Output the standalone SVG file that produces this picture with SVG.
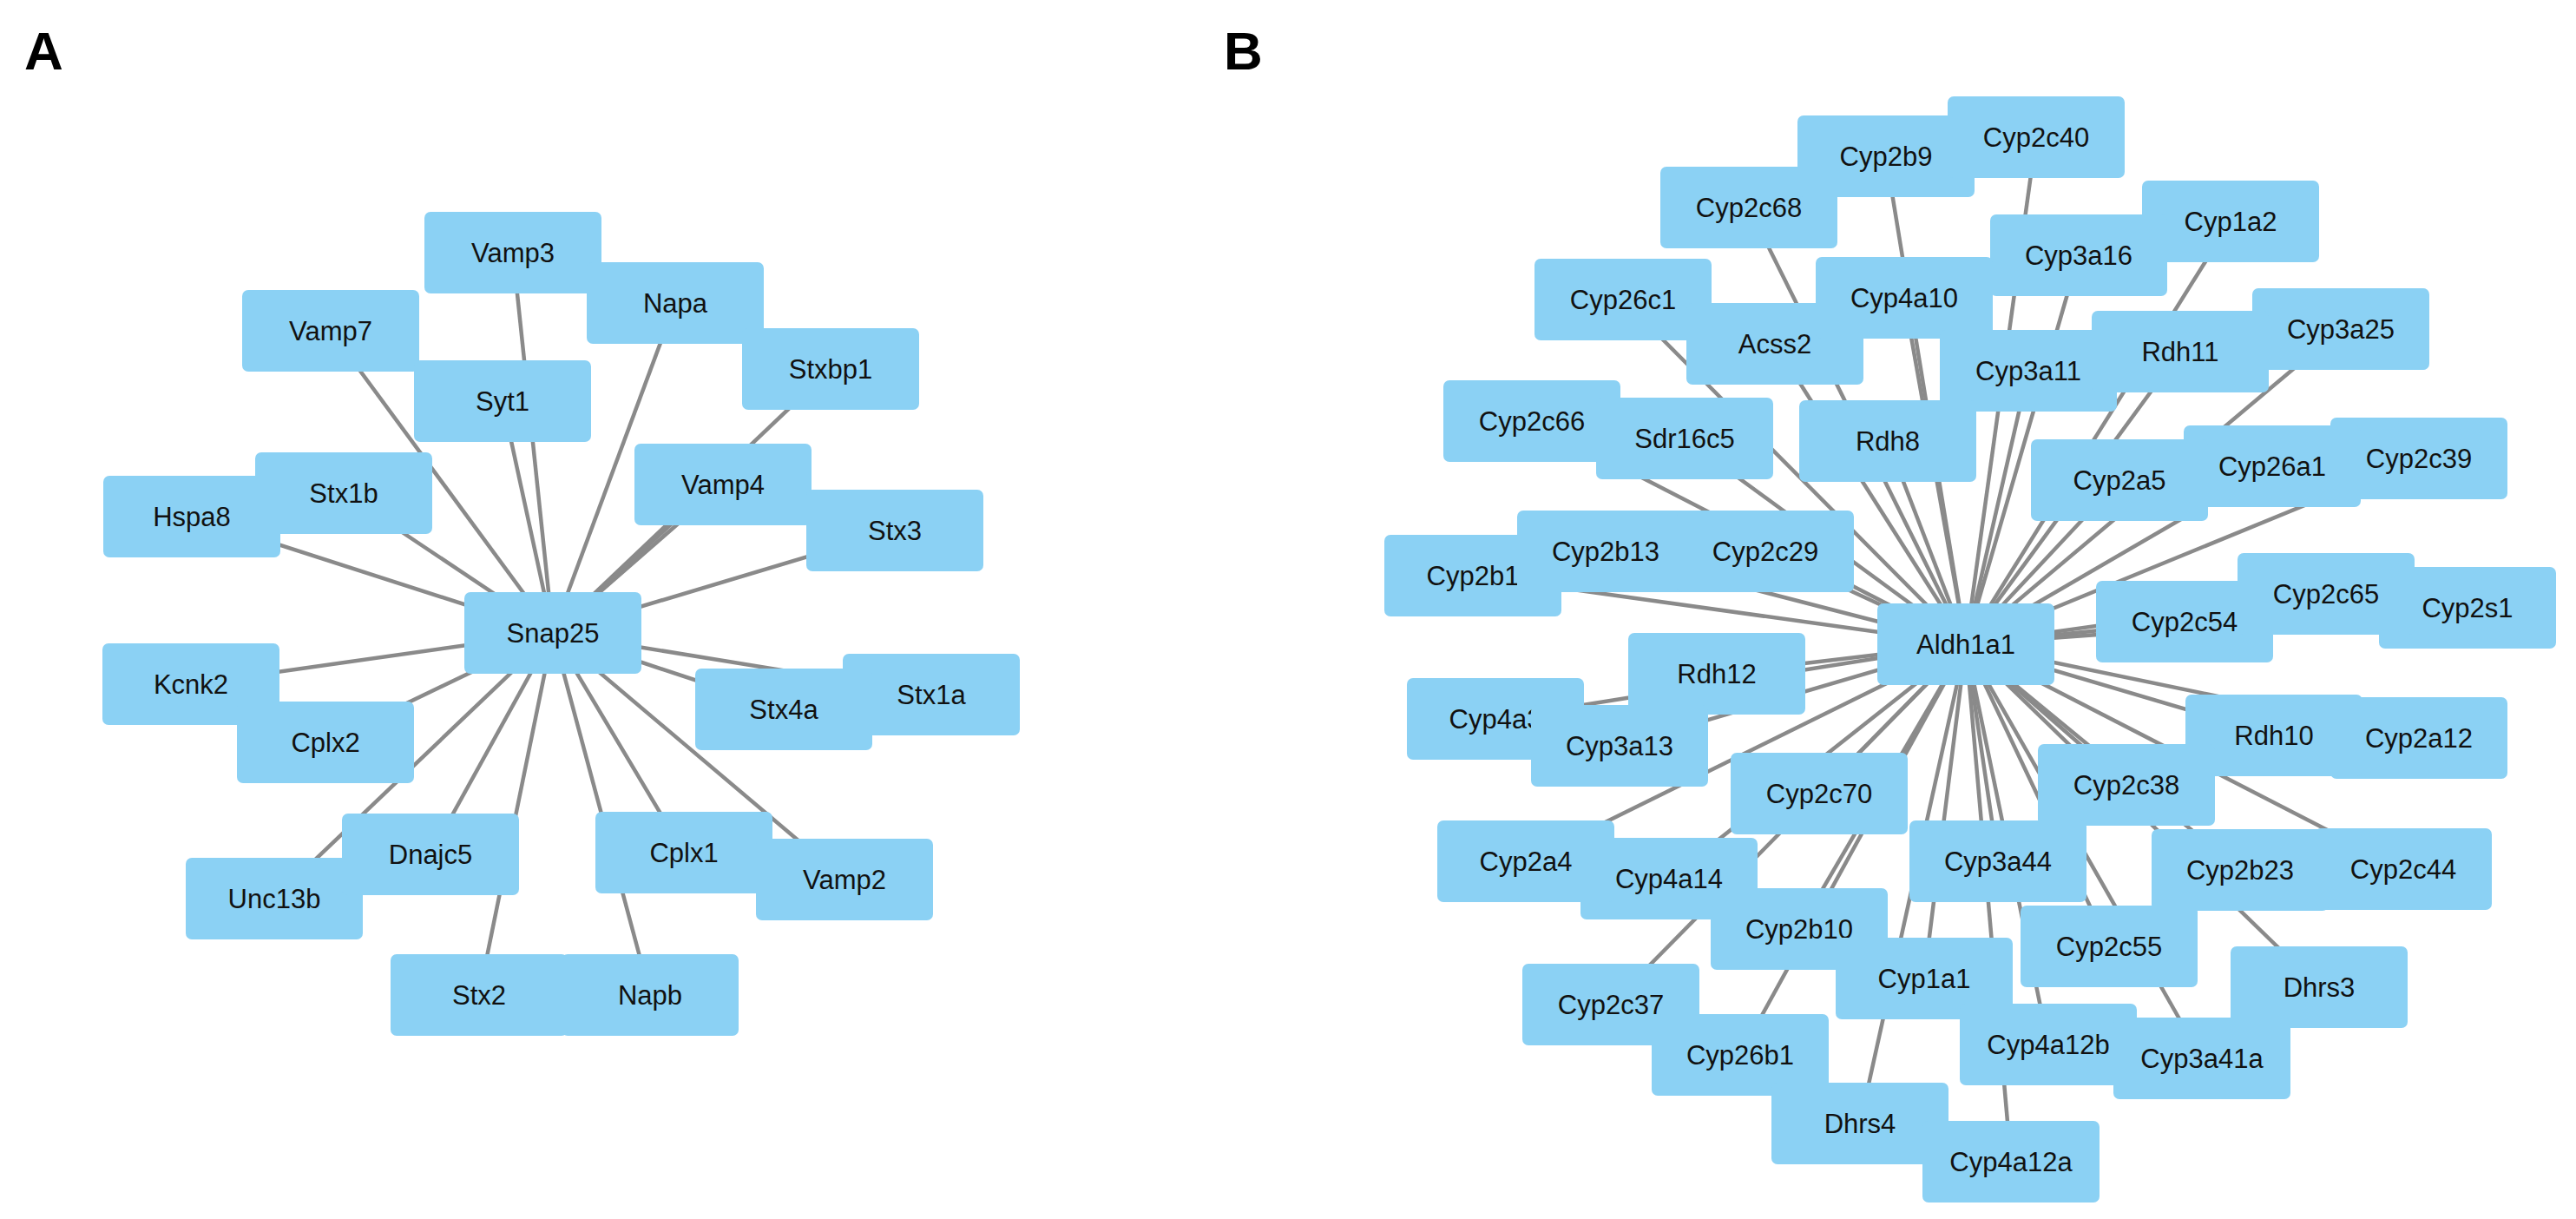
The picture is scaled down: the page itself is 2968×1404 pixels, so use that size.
<svg xmlns="http://www.w3.org/2000/svg" width="2968" height="1404" viewBox="0 0 2968 1404">
<style>
.n text{font-family:"Liberation Sans",Arial,sans-serif;font-size:31px;fill:#111;text-anchor:middle;dominant-baseline:central;}
.e line{stroke:#8a8a8a;stroke-width:4.5;}
.lbl{font-family:"Liberation Sans",Arial,sans-serif;font-size:62px;font-weight:bold;fill:#000;}
</style>
<defs><rect id="b" x="-102" y="-47" width="204" height="94" rx="7" fill="#8bd1f4"/></defs>
<rect width="2968" height="1404" fill="#fff"/>
<text class="lbl" x="28" y="80">A</text>
<text class="lbl" x="1410" y="80">B</text>
<g id="connectors" class="e">
<line x1="637" y1="729" x2="591" y2="291"/>
<line x1="637" y1="729" x2="778" y2="349"/>
<line x1="637" y1="729" x2="381" y2="381"/>
<line x1="637" y1="729" x2="579" y2="462"/>
<line x1="637" y1="729" x2="957" y2="425"/>
<line x1="637" y1="729" x2="396" y2="568"/>
<line x1="637" y1="729" x2="221" y2="595"/>
<line x1="637" y1="729" x2="833" y2="558"/>
<line x1="637" y1="729" x2="823" y2="558"/>
<line x1="637" y1="729" x2="1031" y2="611"/>
<line x1="637" y1="729" x2="220" y2="788"/>
<line x1="637" y1="729" x2="375" y2="855"/>
<line x1="637" y1="729" x2="903" y2="817"/>
<line x1="637" y1="729" x2="1073" y2="800"/>
<line x1="637" y1="729" x2="496" y2="984"/>
<line x1="637" y1="729" x2="316" y2="1035"/>
<line x1="637" y1="729" x2="788" y2="982"/>
<line x1="637" y1="729" x2="973" y2="1013"/>
<line x1="637" y1="729" x2="552" y2="1146"/>
<line x1="637" y1="729" x2="749" y2="1146"/>
<g transform="translate(2265,742)">
<line x2="81" y2="-584"/><line x2="-92" y2="-562"/><line x2="-250" y2="-503"/><line x2="305" y2="-487"/>
<line x2="130" y2="-448"/><line x2="-395" y2="-397"/><line x2="-71" y2="-399"/><line x2="-220" y2="-346"/>
<line x2="432" y2="-363"/><line x2="247" y2="-337"/><line x2="72" y2="-315"/><line x2="-500" y2="-257"/>
<line x2="-324" y2="-237"/><line x2="-90" y2="-234"/><line x2="177" y2="-189"/><line x2="353" y2="-205"/>
<line x2="522" y2="-214"/><line x2="-568" y2="-79"/><line x2="-415" y2="-107"/><line x2="-231" y2="-107"/>
<line x2="252" y2="-26"/><line x2="415" y2="-58"/><line x2="578" y2="-42"/><line x2="-287" y2="34"/>
<line x2="-542" y2="86"/><line x2="-399" y2="117"/><line x2="355" y2="105"/><line x2="522" y2="108"/>
<line x2="-169" y2="172"/><line x2="185" y2="162"/><line x2="-507" y2="250"/><line x2="-342" y2="270"/>
<line x2="37" y2="250"/><line x2="316" y2="260"/><line x2="504" y2="259"/><line x2="-192" y2="328"/>
<line x2="165" y2="348"/><line x2="-48" y2="385"/><line x2="407" y2="395"/><line x2="-409" y2="415"/>
<line x2="-260" y2="473"/><line x2="95" y2="461"/><line x2="272" y2="477"/><line x2="-122" y2="552"/>
<line x2="52" y2="596"/>
</g>
</g>
<g id="Vamp3" class="n" transform="translate(591,291)"><use href="#b"/><text>Vamp3</text></g>
<g id="Napa" class="n" transform="translate(778,349)"><use href="#b"/><text>Napa</text></g>
<g id="Stxbp1" class="n" transform="translate(957,425)"><use href="#b"/><text>Stxbp1</text></g>
<g id="Vamp7" class="n" transform="translate(381,381)"><use href="#b"/><text>Vamp7</text></g>
<g id="Syt1" class="n" transform="translate(579,462)"><use href="#b"/><text>Syt1</text></g>
<g id="Hspa8" class="n" transform="translate(221,595)"><use href="#b"/><text>Hspa8</text></g>
<g id="Stx1b" class="n" transform="translate(396,568)"><use href="#b"/><text>Stx1b</text></g>
<g id="Vamp4" class="n" transform="translate(833,558)"><use href="#b"/><text>Vamp4</text></g>
<g id="Stx3" class="n" transform="translate(1031,611)"><use href="#b"/><text>Stx3</text></g>
<g id="Snap25" class="n" transform="translate(637,729)"><use href="#b"/><text>Snap25</text></g>
<g id="Kcnk2" class="n" transform="translate(220,788)"><use href="#b"/><text>Kcnk2</text></g>
<g id="Cplx2" class="n" transform="translate(375,855)"><use href="#b"/><text>Cplx2</text></g>
<g id="Stx1a" class="n" transform="translate(1073,800)"><use href="#b"/><text>Stx1a</text></g>
<g id="Stx4a" class="n" transform="translate(903,817)"><use href="#b"/><text>Stx4a</text></g>
<g id="Unc13b" class="n" transform="translate(316,1035)"><use href="#b"/><text>Unc13b</text></g>
<g id="Dnajc5" class="n" transform="translate(496,984)"><use href="#b"/><text>Dnajc5</text></g>
<g id="Cplx1" class="n" transform="translate(788,982)"><use href="#b"/><text>Cplx1</text></g>
<g id="Vamp2" class="n" transform="translate(973,1013)"><use href="#b"/><text>Vamp2</text></g>
<g id="Napb" class="n" transform="translate(749,1146)"><use href="#b"/><text>Napb</text></g>
<g id="Stx2" class="n" transform="translate(552,1146)"><use href="#b"/><text>Stx2</text></g>

<g id="Cyp2c68" class="n" transform="translate(2015,239)"><use href="#b"/><text>Cyp2c68</text></g>
<g id="Cyp2b9" class="n" transform="translate(2173,180)"><use href="#b"/><text>Cyp2b9</text></g>
<g id="Cyp2c40" class="n" transform="translate(2346,158)"><use href="#b"/><text>Cyp2c40</text></g>
<g id="Cyp1a2" class="n" transform="translate(2570,255)"><use href="#b"/><text>Cyp1a2</text></g>
<g id="Cyp3a16" class="n" transform="translate(2395,294)"><use href="#b"/><text>Cyp3a16</text></g>
<g id="Cyp26c1" class="n" transform="translate(1870,345)"><use href="#b"/><text>Cyp26c1</text></g>
<g id="Acss2" class="n" transform="translate(2045,396)"><use href="#b"/><text>Acss2</text></g>
<g id="Cyp4a10" class="n" transform="translate(2194,343)"><use href="#b"/><text>Cyp4a10</text></g>
<g id="Cyp3a25" class="n" transform="translate(2697,379)"><use href="#b"/><text>Cyp3a25</text></g>
<g id="Cyp3a11" class="n" transform="translate(2337,427)"><use href="#b"/><text>Cyp3a11</text></g>
<g id="Rdh11" class="n" transform="translate(2512,405)"><use href="#b"/><text>Rdh11</text></g>
<g id="Cyp2c66" class="n" transform="translate(1765,485)"><use href="#b"/><text>Cyp2c66</text></g>
<g id="Sdr16c5" class="n" transform="translate(1941,505)"><use href="#b"/><text>Sdr16c5</text></g>
<g id="Rdh8" class="n" transform="translate(2175,508)"><use href="#b"/><text>Rdh8</text></g>
<g id="Cyp2c39" class="n" transform="translate(2787,528)"><use href="#b"/><text>Cyp2c39</text></g>
<g id="Cyp26a1" class="n" transform="translate(2618,537)"><use href="#b"/><text>Cyp26a1</text></g>
<g id="Cyp2a5" class="n" transform="translate(2442,553)"><use href="#b"/><text>Cyp2a5</text></g>
<g id="Cyp2b1" class="n" transform="translate(1697,663)"><use href="#b"/><text>Cyp2b1</text></g>
<g id="Cyp2b13" class="n" transform="translate(1850,635)"><use href="#b"/><text>Cyp2b13</text></g>
<g id="Cyp2c29" class="n" transform="translate(2034,635)"><use href="#b"/><text>Cyp2c29</text></g>
<g id="Cyp2c54" class="n" transform="translate(2517,716)"><use href="#b"/><text>Cyp2c54</text></g>
<g id="Cyp2s1" class="n" transform="translate(2843,700)"><use href="#b"/><text>Cyp2s1</text></g>
<g id="Cyp2c65" class="n" transform="translate(2680,684)"><use href="#b"/><text>Cyp2c65</text></g>
<g id="Aldh1a1" class="n" transform="translate(2265,742)"><use href="#b"/><text>Aldh1a1</text></g>
<g id="Cyp4a3" class="n" transform="translate(1723,828)"><use href="#b"/><text>Cyp4a3</text></g>
<g id="Rdh12" class="n" transform="translate(1978,776)"><use href="#b"/><text>Rdh12</text></g>
<g id="Cyp3a13" class="n" transform="translate(1866,859)"><use href="#b"/><text>Cyp3a13</text></g>
<g id="Cyp2a12" class="n" transform="translate(2787,850)"><use href="#b"/><text>Cyp2a12</text></g>
<g id="Rdh10" class="n" transform="translate(2620,847)"><use href="#b"/><text>Rdh10</text></g>
<g id="Cyp2c70" class="n" transform="translate(2096,914)"><use href="#b"/><text>Cyp2c70</text></g>
<g id="Cyp2c38" class="n" transform="translate(2450,904)"><use href="#b"/><text>Cyp2c38</text></g>
<g id="Cyp4a14" class="n" transform="translate(1923,1012)"><use href="#b"/><text>Cyp4a14</text></g>
<g id="Cyp2a4" class="n" transform="translate(1758,992)"><use href="#b"/><text>Cyp2a4</text></g>
<g id="Cyp3a44" class="n" transform="translate(2302,992)"><use href="#b"/><text>Cyp3a44</text></g>
<g id="Cyp2c44" class="n" transform="translate(2769,1001)"><use href="#b"/><text>Cyp2c44</text></g>
<g id="Cyp2b23" class="n" transform="translate(2581,1002)"><use href="#b"/><text>Cyp2b23</text></g>
<g id="Cyp2b10" class="n" transform="translate(2073,1070)"><use href="#b"/><text>Cyp2b10</text></g>
<g id="Cyp2c55" class="n" transform="translate(2430,1090)"><use href="#b"/><text>Cyp2c55</text></g>
<g id="Cyp1a1" class="n" transform="translate(2217,1127)"><use href="#b"/><text>Cyp1a1</text></g>
<g id="Dhrs3" class="n" transform="translate(2672,1137)"><use href="#b"/><text>Dhrs3</text></g>
<g id="Cyp2c37" class="n" transform="translate(1856,1157)"><use href="#b"/><text>Cyp2c37</text></g>
<g id="Cyp26b1" class="n" transform="translate(2005,1215)"><use href="#b"/><text>Cyp26b1</text></g>
<g id="Cyp4a12b" class="n" transform="translate(2360,1203)"><use href="#b"/><text>Cyp4a12b</text></g>
<g id="Cyp3a41a" class="n" transform="translate(2537,1219)"><use href="#b"/><text>Cyp3a41a</text></g>
<g id="Dhrs4" class="n" transform="translate(2143,1294)"><use href="#b"/><text>Dhrs4</text></g>
<g id="Cyp4a12a" class="n" transform="translate(2317,1338)"><use href="#b"/><text>Cyp4a12a</text></g>
</svg>
